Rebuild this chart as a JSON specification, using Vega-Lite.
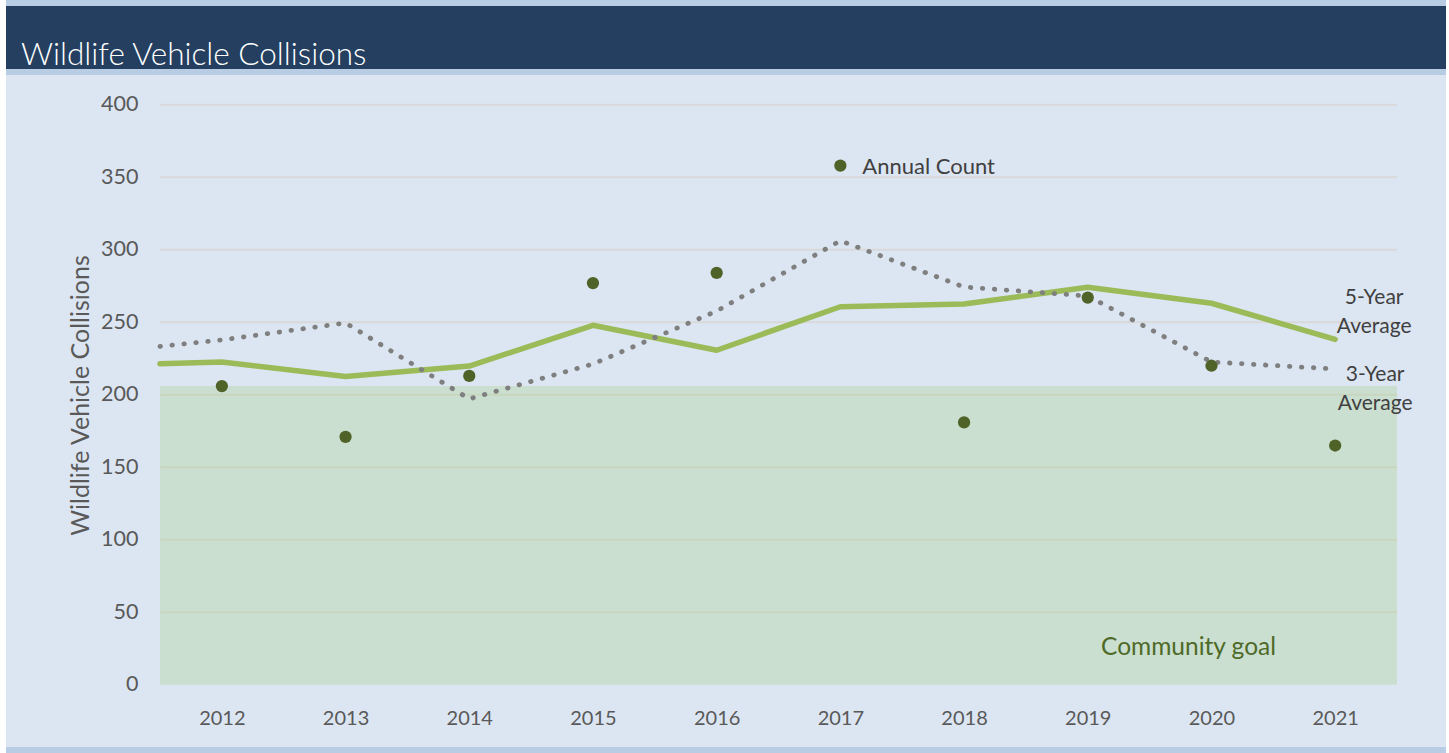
{
  "$schema": "https://vega.github.io/schema/vega-lite/v6.json",
  "background": "#ffffff",
  "padding": {"left": 6, "right": 3, "top": 0, "bottom": 0},
  "spacing": 0,
  "bounds": "flush",
  "config": {"view": {"stroke": null}, "font": "Lato"},
  "datasets": {
    "five": [
      {"year": 2011.5, "value": 221.4},
      {"year": 2012, "value": 222.6},
      {"year": 2013, "value": 212.6},
      {"year": 2014, "value": 219.8},
      {"year": 2015, "value": 247.9},
      {"year": 2016, "value": 230.7},
      {"year": 2017, "value": 260.7},
      {"year": 2018, "value": 262.6},
      {"year": 2019, "value": 274.1},
      {"year": 2020, "value": 263.1},
      {"year": 2021, "value": 238.2, "label": ["5-Year", "Average"]}
    ],
    "three": [
      {"year": 2011.5, "value": 233.3},
      {"year": 2012, "value": 237.8},
      {"year": 2013, "value": 249.5},
      {"year": 2014, "value": 197.1},
      {"year": 2015, "value": 221.2},
      {"year": 2016, "value": 257.7},
      {"year": 2017, "value": 306.2},
      {"year": 2018, "value": 274.3},
      {"year": 2019, "value": 268.1},
      {"year": 2020, "value": 222.6},
      {"year": 2021, "value": 217.8, "label": ["3-Year", "Average"]}
    ],
    "annual": [
      {"year": 2012, "value": 206},
      {"year": 2013, "value": 171},
      {"year": 2014, "value": 213},
      {"year": 2015, "value": 277},
      {"year": 2016, "value": 284},
      {"year": 2017, "value": 358, "label": "Annual Count"},
      {"year": 2018, "value": 181},
      {"year": 2019, "value": 267},
      {"year": 2020, "value": 220},
      {"year": 2021, "value": 165}
    ],
    "grid": [
      {"year": 2011.5, "end": 2021.5, "value": 50},
      {"year": 2011.5, "end": 2021.5, "value": 100},
      {"year": 2011.5, "end": 2021.5, "value": 150},
      {"year": 2011.5, "end": 2021.5, "value": 200},
      {"year": 2011.5, "end": 2021.5, "value": 250},
      {"year": 2011.5, "end": 2021.5, "value": 300},
      {"year": 2011.5, "end": 2021.5, "value": 350},
      {"year": 2011.5, "end": 2021.5, "value": 400}
    ],
    "goal": [
      {"year": 2011.5, "end": 2021.5, "value": 206, "label": "Community goal"}
    ]
  },
  "vconcat": [
    {
      "width": 1440, "height": 6,
      "view": {"fill": "#b8cce4", "stroke": null},
      "data": {"values": []},
      "mark": "rect"
    },
    {
      "width": 1440, "height": 63,
      "view": {"fill": "#243f60", "stroke": null},
      "title": {
        "text": "Wildlife Vehicle Collisions",
        "anchor": "start", "frame": "group", "orient": "top",
        "offset": -90, "dx": 15, "baseline": "alphabetic",
        "color": "#ffffff", "font": "Lato", "fontSize": 31.5, "fontWeight": 300
      },
      "data": {"values": []},
      "mark": "rect"
    },
    {
      "width": 1440, "height": 6,
      "view": {"fill": "#b8cce4", "stroke": null},
      "data": {"values": []},
      "mark": "rect"
    },
    {
      "width": 1440, "height": 672,
      "view": {"fill": "#dce6f2", "stroke": null},
      "encoding": {
        "x": {
          "field": "year", "type": "quantitative",
          "scale": {"domain": [2010.255, 2021.896], "nice": false, "zero": false},
          "axis": {
            "values": [2012, 2013, 2014, 2015, 2016, 2017, 2018, 2019, 2020, 2021],
            "format": "d", "title": null, "grid": false, "domain": false,
            "ticks": false, "tickSize": 0, "labelPadding": 23, "offset": -62,
            "labelFont": "Lato", "labelFontSize": 20, "labelColor": "#595959",
            "labelFlush": false, "labelOverlap": false, "labelBound": false
          }
        },
        "y": {
          "field": "value", "type": "quantitative",
          "scale": {"domain": [-42.89, 420.48], "nice": false, "zero": false},
          "axis": {
            "values": [0, 50, 100, 150, 200, 250, 300, 350, 400],
            "title": "Wildlife Vehicle Collisions", "grid": false, "domain": false,
            "ticks": false, "tickSize": 0, "labelPadding": 22, "offset": -154,
            "labelFont": "Lato", "labelFontSize": 21.5, "labelColor": "#595959",
            "labelFlush": false, "labelOverlap": false, "labelBound": false,
            "titleFont": "Lato", "titleFontSize": 25, "titleFontWeight": "normal",
            "titleColor": "#595959", "titleX": -72, "titleY": 320,
            "titleBaseline": "alphabetic", "titleAlign": "center", "titleAngle": 270
          }
        }
      },
      "layer": [
        {
          "data": {"name": "grid"},
          "mark": {"type": "rule", "color": "#d9d9d9", "strokeWidth": 2},
          "encoding": {"x2": {"field": "end"}}
        },
        {
          "data": {"name": "goal"},
          "mark": {"type": "rect", "color": "#a9d08e", "opacity": 0.35},
          "encoding": {"x2": {"field": "end"}, "y2": {"datum": 0}}
        },
        {
          "data": {"name": "goal"},
          "mark": {"type": "text", "align": "left", "baseline": "middle", "dx": 941, "dy": 262, "font": "Lato", "fontSize": 24.5, "color": "#4f6a28"},
          "encoding": {"text": {"field": "label"}}
        },
        {
          "data": {"name": "five"},
          "mark": {"type": "line", "color": "#9bbb59", "strokeWidth": 5.5, "strokeCap": "round", "strokeJoin": "round"}
        },
        {
          "data": {"name": "three"},
          "mark": {"type": "line", "color": "#7f7f7f", "strokeWidth": 4.8, "strokeCap": "round", "strokeDash": [0.5, 11.5]}
        },
        {
          "data": {"name": "annual"},
          "mark": {"type": "point", "filled": true, "shape": "circle", "size": 150, "color": "#4f6228", "opacity": 1}
        },
        {
          "data": {"name": "annual"},
          "transform": [{"filter": "isValid(datum.label)"}],
          "mark": {"type": "text", "align": "left", "baseline": "middle", "dx": 22, "dy": 1, "font": "Lato", "fontSize": 22, "color": "#404040"},
          "encoding": {"text": {"field": "label"}}
        },
        {
          "data": {"name": "five"},
          "transform": [{"filter": "isValid(datum.label)"}],
          "mark": {"type": "text", "align": "center", "baseline": "middle", "dx": 39, "dy": -41, "lineHeight": 29, "font": "Lato", "fontSize": 21, "color": "#404040"},
          "encoding": {"text": {"field": "label"}}
        },
        {
          "data": {"name": "three"},
          "transform": [{"filter": "isValid(datum.label)"}],
          "mark": {"type": "text", "align": "center", "baseline": "middle", "dx": 40, "dy": 6, "lineHeight": 29, "font": "Lato", "fontSize": 21, "color": "#404040"},
          "encoding": {"text": {"field": "label"}}
        }
      ]
    },
    {
      "width": 1440, "height": 6,
      "view": {"fill": "#b8cce4", "stroke": null},
      "data": {"values": []},
      "mark": "rect"
    }
  ]
}
